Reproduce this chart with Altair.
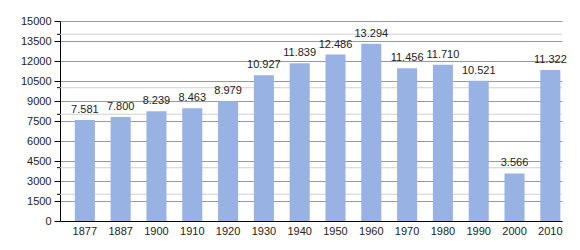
import altair as alt
import pandas as pd

years = ["1877", "1887", "1900", "1910", "1920", "1930", "1940", "1950",
         "1960", "1970", "1980", "1990", "2000", "2010"]
population = [7581, 7800, 8239, 8463, 8979, 10927, 11839, 12486,
              13294, 11456, 11710, 10521, 3566, 11322]
major_ticks = list(range(0, 15001, 1500))
minor_ticks = [2000, 4000, 8000, 10000, 14000]

labels = [f"{v:,}".replace(",", ".") for v in population]
df = pd.DataFrame({"year": years, "pop": population, "label": labels})
minor_df = pd.DataFrame({"v": minor_ticks})

FONT = "Liberation Sans"
W, H = 502, 200

yscale = alt.Scale(domain=[0, 15000], nice=False)
xscale = alt.Scale(paddingInner=0.44, paddingOuter=0.23, align=0.9)

yaxis = alt.Axis(values=major_ticks, format="d", labelOverlap=False,
                 domainColor="#000000", tickColor="#000000",
                 tickSize=6, labelFont=FONT, labelFontSize=11,
                 labelColor="#222222", labelPadding=3, grid=True,
                 gridColor="#999999", gridOpacity=1, labelFlush=False)

minor_grid = alt.Chart(minor_df).mark_tick(
    color="#cfcfcf", orient="horizontal", thickness=1, size=W, opacity=1
).encode(
    y=alt.Y("v:Q", scale=yscale, axis=yaxis, title=None),
    x=alt.value(W / 2),
)
minor_tick = alt.Chart(minor_df).mark_tick(
    color="#000000", orient="horizontal", thickness=1, size=3, opacity=1
).encode(
    y=alt.Y("v:Q", scale=yscale, axis=yaxis, title=None),
    x=alt.value(-1.5),
)

bars = alt.Chart(df).mark_bar(color="#98b2e4").encode(
    x=alt.X("year:N", sort=years, scale=xscale, title=None,
            axis=alt.Axis(labelAngle=0, ticks=False, domainColor="#000000",
                          labelFont=FONT, labelFontSize=11, labelColor="#222222",
                          labelPadding=4, grid=False)),
    y=alt.Y("pop:Q", scale=yscale, title=None, axis=yaxis),
)

text = alt.Chart(df).mark_text(baseline="bottom", dy=-5, font=FONT, fontSize=11,
                               color="#222222").encode(
    x=alt.X("year:N", sort=years, scale=xscale, title=None),
    y=alt.Y("pop:Q", scale=yscale, axis=yaxis, title=None),
    text="label:N",
)

chart = alt.layer(minor_grid, bars, text, minor_tick).properties(
    width=W, height=H,
    autosize=alt.AutoSizeParams(type="none"),
    padding={"left": 52, "top": 13, "right": 10, "bottom": 20},
).configure_view(stroke=None)

chart.save("out.html", embed_options={"renderer": "svg", "actions": False})
